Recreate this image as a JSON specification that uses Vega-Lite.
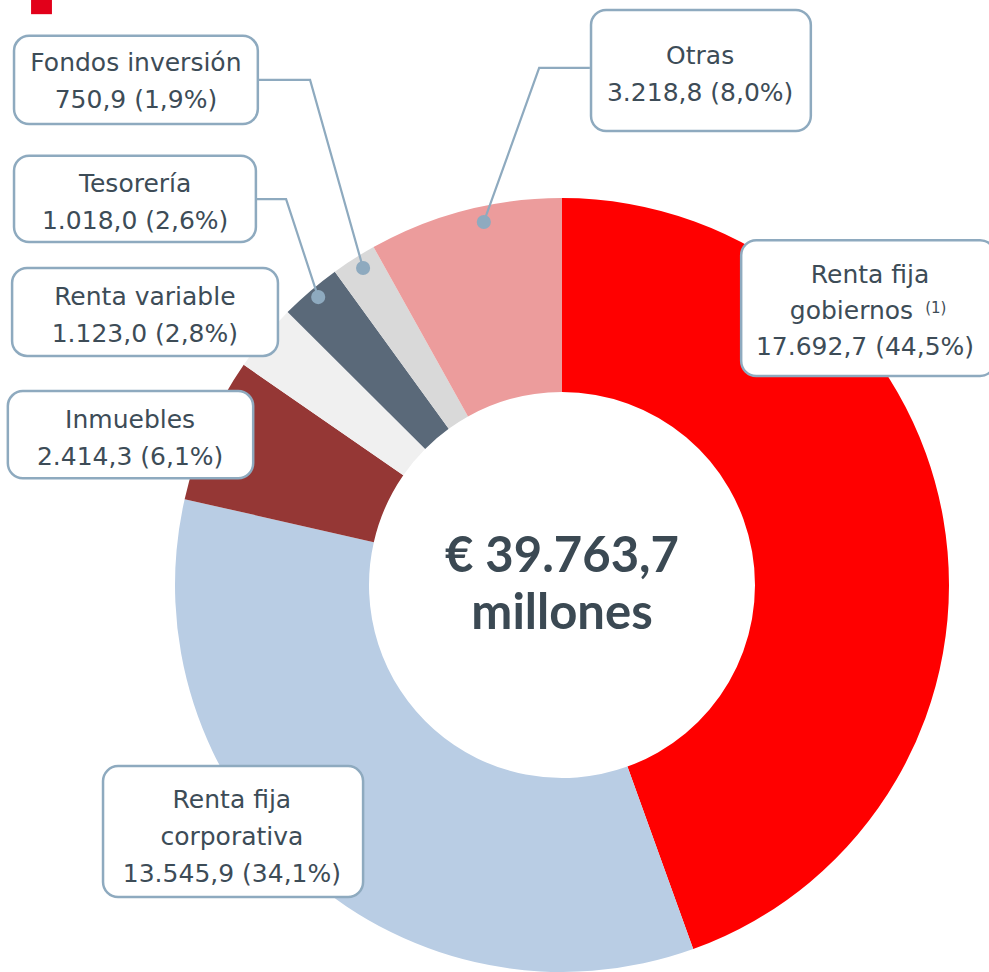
{
  "$schema": "https://vega.github.io/schema/vega-lite/v6.json",
  "autosize": "none",
  "width": 854,
  "height": 774,
  "padding": {"left": 135, "top": 198, "right": 0, "bottom": 0},
  "background": "white",
  "config": {"view": {"stroke": null}},
  "datasets": {
    "slices": [
      {"cat": "Renta fija gobiernos", "value": 17692.7, "ord": 1},
      {"cat": "Renta fija corporativa", "value": 13545.9, "ord": 2},
      {"cat": "Inmuebles", "value": 2414.3, "ord": 3},
      {"cat": "Renta variable", "value": 1123.0, "ord": 4},
      {"cat": "Tesorería", "value": 1018.0, "ord": 5},
      {"cat": "Fondos inversión", "value": 750.9, "ord": 6},
      {"cat": "Otras", "value": 3218.8, "ord": 7}
    ],
    "boxes": [
      {"cat": "Fondos inversión", "x1": -141.6, "x2": -78.6, "y1": 141.9, "y2": 119.1},
      {"cat": "Tesorería", "x1": -141.6, "x2": -79.1, "y1": 110.9, "y2": 88.6},
      {"cat": "Renta variable", "x1": -142.1, "x2": -73.4, "y1": 81.9, "y2": 59.2},
      {"cat": "Inmuebles", "x1": -143.2, "x2": -79.8, "y1": 50.1, "y2": 27.6},
      {"cat": "Otras", "x1": 7.5, "x2": 64.3, "y1": 148.6, "y2": 117.3},
      {"cat": "Renta fija gobiernos", "x1": 46.3, "x2": 111.9, "y1": 89.1, "y2": 54.0},
      {"cat": "Renta fija corporativa", "x1": -118.6, "x2": -51.4, "y1": -46.8, "y2": -80.6}
    ],
    "labels": [
      {"x": -110.1, "y": 134.9, "t": "Fondos inversión\n750,9 (1,9%)"},
      {"x": -110.3, "y": 103.6, "t": "Tesorería\n1.018,0 (2,6%)"},
      {"x": -107.8, "y": 74.4, "t": "Renta variable\n1.123,0 (2,8%)"},
      {"x": -111.6, "y": 42.6, "t": "Inmuebles\n2.414,3 (6,1%)"},
      {"x": 35.7, "y": 136.7, "t": "Otras\n3.218,8 (8,0%)"},
      {"x": 79.6, "y": 80.1, "t": "Renta fija"},
      {"x": 74.8, "y": 70.8, "t": "gobiernos"},
      {"x": 78.3, "y": 61.5, "t": "17.692,7 (44,5%)"},
      {"x": -85.3, "y": -55.6, "t": "Renta fija\ncorporativa\n13.545,9 (34,1%)"}
    ],
    "sup": [
      {"x": 96.6, "y": 71.6, "t": "(1)"}
    ],
    "center": [
      {"x": 0, "y": 7.2, "t": "€ 39.763,7\nmillones"}
    ],
    "leaders": [
      {"g": "Fondos inversión", "s": 1, "x": -78.3, "y": 130.5},
      {"g": "Fondos inversión", "s": 2, "x": -65.1, "y": 130.5},
      {"g": "Fondos inversión", "s": 3, "x": -51.4, "y": 81.9},
      {"g": "Tesorería", "s": 1, "x": -79.3, "y": 99.7},
      {"g": "Tesorería", "s": 2, "x": -71.3, "y": 99.7},
      {"g": "Tesorería", "s": 3, "x": -63.0, "y": 74.4},
      {"g": "Otras", "s": 1, "x": 7.2, "y": 133.6},
      {"g": "Otras", "s": 2, "x": -5.9, "y": 133.6},
      {"g": "Otras", "s": 3, "x": -20.2, "y": 93.8}
    ],
    "deco": [
      {"x1": -137.2, "x2": -131.8, "y1": 151.2, "y2": 147.5}
    ]
  },
  "layer": [
    {
      "data": {"name": "slices"},
      "mark": {"type": "arc", "radius": 387, "innerRadius": 193},
      "encoding": {
        "theta": {"field": "value", "type": "quantitative", "stack": true},
        "order": {"field": "ord", "type": "quantitative"},
        "color": {
          "field": "cat", "type": "nominal", "legend": null,
          "scale": {
            "domain": ["Renta fija gobiernos", "Renta fija corporativa", "Inmuebles", "Renta variable", "Tesorería", "Fondos inversión", "Otras"],
            "range": ["#ff0000", "#b9cde4", "#953735", "#f0f0f0", "#5a6979", "#d9d9d9", "#ec9c9c"]
          }
        }
      }
    },
    {
      "data": {"name": "leaders"},
      "mark": {"type": "line", "color": "#8eaabf", "strokeWidth": 2.2},
      "encoding": {
        "x": {"field": "x", "type": "quantitative", "scale": {"domain": [-110.34, 110.34], "nice": false, "zero": false}, "axis": null},
        "y": {"field": "y", "type": "quantitative", "scale": {"domain": [-100, 100], "nice": false, "zero": false}, "axis": null},
        "detail": {"field": "g", "type": "nominal"},
        "order": {"field": "s", "type": "quantitative"}
      }
    },
    {
      "data": {"name": "leaders"},
      "transform": [{"filter": "datum.s == 3"}],
      "mark": {"type": "circle", "color": "#8eaabf", "opacity": 1, "size": 200},
      "encoding": {
        "x": {"field": "x", "type": "quantitative", "scale": {"domain": [-110.34, 110.34], "nice": false, "zero": false}, "axis": null},
        "y": {"field": "y", "type": "quantitative", "scale": {"domain": [-100, 100], "nice": false, "zero": false}, "axis": null}
      }
    },
    {
      "data": {"name": "boxes"},
      "mark": {"type": "rect", "fill": "white", "stroke": "#8eaabf", "strokeWidth": 2.5, "cornerRadius": 15},
      "encoding": {
        "x": {"field": "x1", "type": "quantitative", "scale": {"domain": [-110.34, 110.34], "nice": false, "zero": false}, "axis": null},
        "x2": {"field": "x2"},
        "y": {"field": "y1", "type": "quantitative", "scale": {"domain": [-100, 100], "nice": false, "zero": false}, "axis": null},
        "y2": {"field": "y2"}
      }
    },
    {
      "data": {"name": "labels"},
      "mark": {"type": "text", "font": "DejaVu Sans", "fontSize": 25, "color": "#3d4c57", "align": "center", "baseline": "middle", "lineBreak": "\n", "lineHeight": 37},
      "encoding": {
        "x": {"field": "x", "type": "quantitative", "scale": {"domain": [-110.34, 110.34], "nice": false, "zero": false}, "axis": null},
        "y": {"field": "y", "type": "quantitative", "scale": {"domain": [-100, 100], "nice": false, "zero": false}, "axis": null},
        "text": {"field": "t", "type": "nominal"}
      }
    },
    {
      "data": {"name": "sup"},
      "mark": {"type": "text", "font": "DejaVu Sans", "fontSize": 15, "color": "#3d4c57", "align": "center", "baseline": "middle"},
      "encoding": {
        "x": {"field": "x", "type": "quantitative", "scale": {"domain": [-110.34, 110.34], "nice": false, "zero": false}, "axis": null},
        "y": {"field": "y", "type": "quantitative", "scale": {"domain": [-100, 100], "nice": false, "zero": false}, "axis": null},
        "text": {"field": "t", "type": "nominal"}
      }
    },
    {
      "data": {"name": "center"},
      "mark": {"type": "text", "font": "Lato", "fontWeight": "bold", "fontSize": 49, "color": "#3b4953", "align": "center", "baseline": "middle", "lineBreak": "\n", "lineHeight": 57},
      "encoding": {
        "x": {"field": "x", "type": "quantitative", "scale": {"domain": [-110.34, 110.34], "nice": false, "zero": false}, "axis": null},
        "y": {"field": "y", "type": "quantitative", "scale": {"domain": [-100, 100], "nice": false, "zero": false}, "axis": null},
        "text": {"field": "t", "type": "nominal"}
      }
    },
    {
      "data": {"name": "deco"},
      "mark": {"type": "rect", "fill": "#e2001a"},
      "encoding": {
        "x": {"field": "x1", "type": "quantitative", "scale": {"domain": [-110.34, 110.34], "nice": false, "zero": false}, "axis": null},
        "x2": {"field": "x2"},
        "y": {"field": "y1", "type": "quantitative", "scale": {"domain": [-100, 100], "nice": false, "zero": false}, "axis": null},
        "y2": {"field": "y2"}
      }
    }
  ]
}
